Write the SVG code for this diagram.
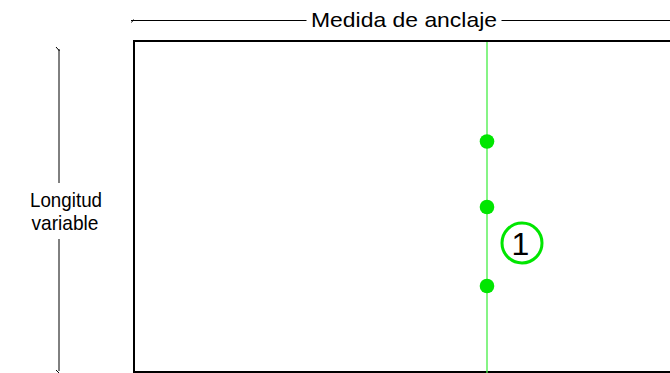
<svg xmlns="http://www.w3.org/2000/svg" width="670" height="373" viewBox="0 0 670 373">
<style>
.dim{stroke:#000;stroke-width:1;fill:none}
.lbl{font-family:"Liberation Sans",Arial,sans-serif;font-size:21px;fill:#000}
.dot{fill:#00e600}
</style>
<rect width="670" height="373" fill="#fff"/>
<g id="panel">
<rect x="134" y="41" width="560" height="331" fill="none" stroke="#000" stroke-width="2"/>
</g>
<g id="connectors">
<line class="dim" x1="131" y1="20.5" x2="306.5" y2="20.5"/>
<line class="dim" x1="131.5" y1="22.5" x2="133.5" y2="19.5"/>
<line class="dim" x1="501.5" y1="20.5" x2="670" y2="20.5"/>
<line class="dim" x1="59" y1="49" x2="59" y2="183"/>
<line class="dim" x1="59" y1="239" x2="59" y2="371"/>
<line class="dim" x1="56" y1="47" x2="59.5" y2="51"/>
<line class="dim" x1="56" y1="370" x2="59" y2="373"/>
<line x1="487" y1="42" x2="487" y2="373" stroke="#44ee44" stroke-width="1.3"/>
</g>
<g id="dim-width"><text class="lbl" x="311" y="27" textLength="186" lengthAdjust="spacingAndGlyphs">Medida de anclaje</text></g>
<g id="dim-length"><text class="lbl" x="30" y="206.5" textLength="72" lengthAdjust="spacingAndGlyphs">Longitud</text><text class="lbl" x="31.5" y="230" textLength="67" lengthAdjust="spacingAndGlyphs">variable</text></g>
<g id="anchor-1"><circle class="dot" cx="487" cy="141.5" r="7.3"/></g>
<g id="anchor-2"><circle class="dot" cx="487" cy="207" r="7.3"/></g>
<g id="anchor-3"><circle class="dot" cx="487" cy="286" r="7.3"/></g>
<g id="callout-1">
<circle cx="522" cy="243" r="20" fill="none" stroke="#00e600" stroke-width="3"/>
<text x="520.5" y="255" text-anchor="middle" style="font-family:'Liberation Sans',Arial,sans-serif;font-size:32px;fill:#000">1</text>
</g>
</svg>
